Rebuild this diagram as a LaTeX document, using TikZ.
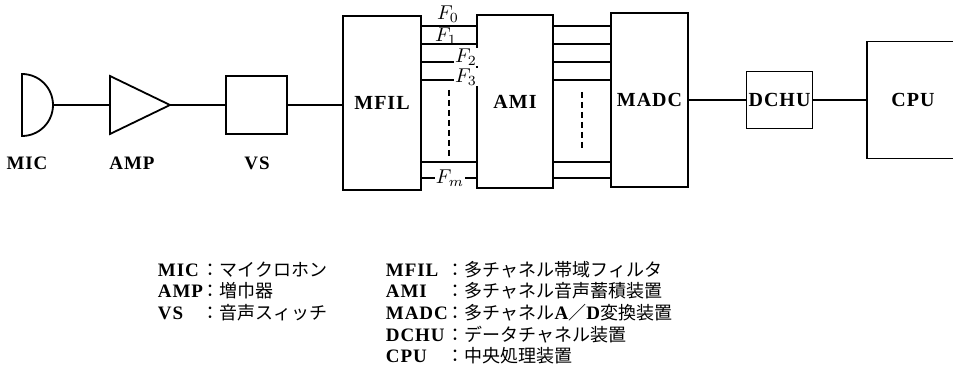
\documentclass[tikz,border=0pt]{standalone}
\usepackage{fontspec}
\setmainfont{Liberation Serif}
\newfontfamily\jpfont{Noto Sans CJK JP}
\usetikzlibrary{positioning, calc}

\newcommand{\blockfont}{\fontsize{10}{12}\selectfont\bfseries\addfontfeatures{LetterSpace=5}}
\newcommand{\capfont}{\fontsize{9.5}{10.75}\selectfont\bfseries\addfontfeatures{LetterSpace=5}}
\newcommand{\ja}[1]{{\jpfont\mdseries\fontsize{9}{10.75}\selectfont #1}}

\begin{document}
\begin{tikzpicture}[
  x=0.5pt, y=-0.5pt,
  line width=0.9pt,
  block/.style = {draw, inner sep=0pt, font=\blockfont},
  caption/.style = {inner sep=0pt, font=\capfont},
  chan/.style = {inner sep=0.5pt, font=\fontsize{10}{11}\selectfont},
  dots/.style = {line width=0.8pt, dash pattern=on 3pt off 2pt}
]
  \useasboundingbox (0,0) rectangle (953,374);
  \clip (0,0) rectangle (953,374);

  % Microphone and amplifier
  \draw (22,74) arc[start angle=-90, end angle=90, radius=31] -- cycle;
  \coordinate (mic) at (53,105);
  \draw (110,76) -- (170,105) -- (110,134) -- cycle;
  \coordinate (amp_in) at (110,105);
  \coordinate (amp_out) at (170,105);

  % Place the blocks
  \node[block, minimum width=30.5pt, minimum height=29pt] (vs) at (256.5,105) {};
  \node[block, minimum width=39pt, minimum height=87pt] (mfil) at (382,103) {MFIL};
  \node[block, minimum width=38pt, minimum height=86.5pt] (ami) at (515,101.5) {AMI};
  \node[block, minimum width=38.5pt, minimum height=87pt] (madc) at (649.5,100) {MADC};
  \node[block, minimum width=33pt, minimum height=28.5pt] (dchu) at (779.5,100) {DCHU};
  \node[block, minimum width=46pt, minimum height=58.5pt] (cpu) at (913,100) {CPU};

  \node[caption] (mic_label) at (27,163) {MIC};
  \node[caption] (amp_label) at (132,163) {AMP};
  \node[caption] (vs_label) at (257,163) {VS};

  % Signal path
  \draw (mic) -- (amp_in);
  \draw (amp_out) -- (vs.west);
  \draw (vs.east) -- (vs.east -| mfil.west);
  \draw (madc) -- (dchu);
  \draw (dchu) -- (cpu);

  % Channels
  \foreach \y in {26,44,62,80,162,178} {
    \draw (mfil.east |- 0,\y) -- (ami.west |- 0,\y);
    \draw (ami.east |- 0,\y) -- (madc.west |- 0,\y);
  }
  \coordinate (gap_0) at ($(mfil.east)!0.5!(ami.west)$);
  \coordinate (gap_1) at ($(ami.east)!0.5!(madc.west)$);
  \draw[dots] (gap_0 |- 0,90) -- (gap_0 |- 0,158);
  \draw[dots] (gap_1 |- 0,92) -- (gap_1 |- 0,150);

  \node[chan] (f_0) at (448,14) {$F_0$};
  \node[chan] (f_1) at (446,36) {$F_1$};
  \node[chan, fill=white] (f_2) at (466,57) {$F_2$};
  \node[chan, fill=white] (f_3) at (466,77) {$F_3$};
  \node[chan, fill=white] (f_m) at (450,178) {$F_m$};

  % Legend
  \node[anchor=base west, inner sep=0pt, font=\capfont] (legend_0) at (157,276) {%
    \begin{tabular}[t]{@{}p{22pt}@{}l@{}}
      MIC & \ja{：マイクロホン}\\
      AMP & \ja{：増巾器}\\
      VS  & \ja{：音声スィッチ}
    \end{tabular}};
  \node[anchor=base west, inner sep=0pt, font=\capfont] (legend_1) at (385,276) {%
    \begin{tabular}[t]{@{}p{30.5pt}@{}l@{}}
      MFIL & \ja{：多チャネル帯域フィルタ}\\
      AMI  & \ja{：多チャネル音声蓄積装置}\\
      MADC & \ja{：多チャネル}A\ja{／}D\ja{変換装置}\\
      DCHU & \ja{：データチャネル装置}\\
      CPU  & \ja{：中央処理装置}
    \end{tabular}};
\end{tikzpicture}
\end{document}
